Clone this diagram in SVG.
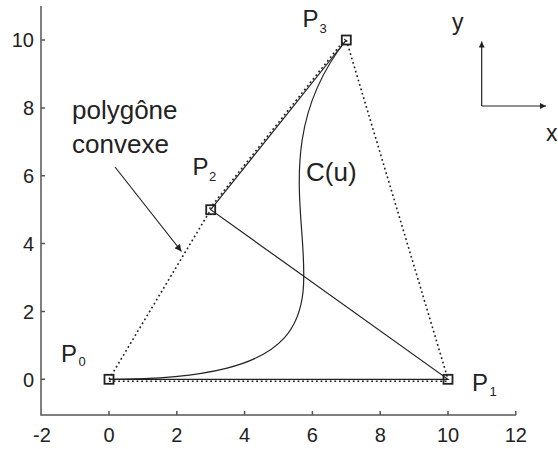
<svg xmlns="http://www.w3.org/2000/svg" width="558" height="449" viewBox="0 0 558 449">
<defs>
<style>
text{font-family:"Liberation Sans",Arial,Helvetica,sans-serif;fill:#222}
.tick{font-size:20px}
.lbl{font-size:24px}
.sub{font-size:13px}
.big{font-size:26px}
.axis{stroke:#555;stroke-width:1.5;fill:none}
.solid{stroke:#222;stroke-width:1.2;fill:none}
.dot{stroke:#222;stroke-width:1.6;fill:none;stroke-dasharray:1.8 2.8}
.pt{stroke:#222;stroke-width:1.8;fill:none}
</style>
<marker id="ah" viewBox="0 0 10 10" refX="10" refY="5" markerWidth="8" markerHeight="7" markerUnits="userSpaceOnUse" orient="auto">
<path d="M0,0 L10,5 L0,10 Z" fill="#222"/>
</marker>
<marker id="ah2" viewBox="0 0 10 10" refX="10" refY="5" markerWidth="7" markerHeight="6" markerUnits="userSpaceOnUse" orient="auto">
<path d="M0,0 L10,5 L0,10 Z" fill="#222"/>
</marker>
</defs>
<g id="axes">
<path class="axis" d="M41,6 V415 H516"/>
<path class="axis" d="M109,415 v-4 M176.8,415 v-4 M244.6,415 v-4 M312.4,415 v-4 M380.2,415 v-4 M448,415 v-4 M515.8,415 v-4"/>
<path class="axis" d="M41,379.3 h4 M41,311.4 h4 M41,243.6 h4 M41,175.7 h4 M41,107.9 h4 M41,40 h4"/>
<g class="tick" text-anchor="middle">
<text x="42" y="442">-2</text>
<text x="109" y="442">0</text>
<text x="176.8" y="442">2</text>
<text x="244.6" y="442">4</text>
<text x="312.4" y="442">6</text>
<text x="380.2" y="442">8</text>
<text x="448" y="442">10</text>
<text x="515.8" y="442">12</text>
</g>
<g class="tick" text-anchor="end">
<text x="34" y="386.5">0</text>
<text x="34" y="318.6">2</text>
<text x="34" y="250.8">4</text>
<text x="34" y="182.9">6</text>
<text x="34" y="115.1">8</text>
<text x="34" y="47.2">10</text>
</g>
</g>
<g id="connectors">
<path class="dot" d="M109,381.3 H448"/>
<path class="dot" d="M109,379.3 L210.7,209.7"/>
<path class="dot" d="M209.5,208.8 L345.1,39.1"/>
<path class="dot" d="M346.3,40 L448,379.3"/>
<path class="solid" d="M109,379.3 H448 L210.7,209.7 L346.3,40"/>
<path class="solid" d="M109,379.3 C448,379.3 210.7,209.7 346.3,40"/>
<path class="solid" d="M115,167 L181.5,251.5" marker-end="url(#ah)"/>
<path class="solid" d="M481.7,106 V41.5" marker-end="url(#ah2)"/>
<path class="solid" d="M481.7,106 H546" marker-end="url(#ah2)"/>
</g>
<g id="P0">
<rect class="pt" x="104.5" y="374.8" width="9" height="9"/>
<text class="lbl" x="61" y="362">P</text><text class="sub" x="78.5" y="366">0</text>
</g>
<g id="P1">
<rect class="pt" x="443.5" y="374.8" width="9" height="9"/>
<text class="lbl" x="472" y="391">P</text><text class="sub" x="489.5" y="396">1</text>
</g>
<g id="P2">
<rect class="pt" x="206.2" y="205.2" width="9" height="9"/>
<text class="lbl" x="192.5" y="175">P</text><text class="sub" x="209" y="180.5">2</text>
</g>
<g id="P3">
<rect class="pt" x="341.8" y="35.5" width="9" height="9"/>
<text class="lbl" x="302.5" y="27">P</text><text class="sub" x="319.5" y="32.5">3</text>
</g>
<g id="curve-label">
<text class="big" x="306" y="181">C(u)</text>
</g>
<g id="hull-label">
<text class="big" x="72" y="119">polygône</text>
<text class="big" x="72" y="153">convexe</text>
</g>
<g id="xy-labels">
<text style="font-size:23px" x="452" y="30">y</text>
<text style="font-size:23px" x="546" y="141">x</text>
</g>
</svg>
